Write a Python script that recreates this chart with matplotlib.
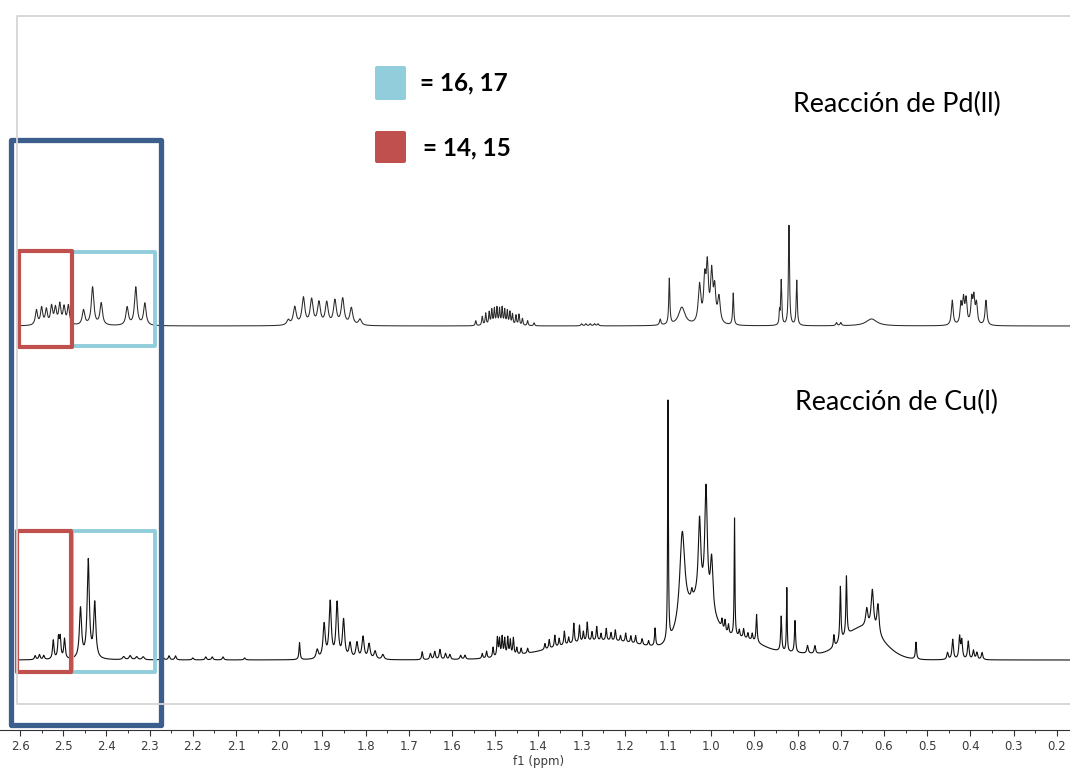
import numpy as np
import matplotlib
matplotlib.use('Agg')
import matplotlib.pyplot as plt
from matplotlib.patches import Rectangle, FancyBboxPatch
from matplotlib.ticker import MultipleLocator, FormatStrFormatter

# ---- Daten ----
# Pd(II): Peak-Lagen [ppm], Höhen [px], Breiten FWHM [ppm]
pd_ppm = [2.562, 2.550, 2.539, 2.527, 2.518, 2.508, 2.498, 2.488,
          2.453, 2.432, 2.412, 2.352, 2.332, 2.311,
          1.979, 1.964, 1.944, 1.925, 1.908, 1.890, 1.871, 1.853, 1.833, 1.813,
          1.545, 1.530, 1.522, 1.514, 1.508, 1.502, 1.496, 1.490, 1.484, 1.478,
          1.472, 1.466, 1.460, 1.452, 1.445, 1.437, 1.425, 1.410,
          1.300, 1.290, 1.280, 1.270, 1.262,
          1.118, 1.097, 1.068, 1.027, 1.015, 1.009, 0.999, 0.992, 0.982,
          0.949, 0.842, 0.838, 0.820, 0.802, 0.710, 0.700, 0.629,
          0.442, 0.422, 0.416, 0.410, 0.397, 0.392, 0.386, 0.364]
pd_int = [15, 17, 15, 18, 16, 20, 17, 19,
          15, 38, 22, 18, 38, 22,
          5, 18, 27, 25, 22, 22, 24, 26, 17, 6,
          5, 9, 12, 13, 15, 16, 17, 16, 17, 15,
          14, 13, 11, 10, 11, 7, 5, 3,
          2, 2, 2, 2, 2,
          6, 46, 18, 38, 40, 54, 48, 32, 26,
          32, 12, 45, 100, 45, 3, 3, 7,
          25, 20, 24, 24, 24, 25, 20, 25]
pd_w = [0.006] * 8 + [0.007] * 6 + [0.008] * 10 + [0.003] * 18 + [0.004] * 5 + \
       [0.004, 0.003, 0.018, 0.007, 0.006, 0.006, 0.006, 0.006, 0.007] + \
       [0.003, 0.002, 0.003, 0.003, 0.003, 0.004, 0.004, 0.03] + [0.005] * 8

# Cu(I): Peak-Lagen, Höhen, Breiten
cu_ppm = [2.565, 2.555, 2.545, 2.523, 2.511, 2.507, 2.497,
          2.460, 2.442, 2.427, 2.360, 2.345, 2.330, 2.315,
          2.270, 2.255, 2.240, 2.200, 2.170, 2.155, 2.130, 2.080,
          1.953, 1.912, 1.896, 1.882, 1.866, 1.851, 1.836, 1.820, 1.806, 1.792,
          1.778, 1.760, 1.669, 1.650, 1.640, 1.628, 1.615, 1.605, 1.580, 1.570,
          1.530, 1.520, 1.505, 1.495, 1.490, 1.484, 1.478, 1.471, 1.465, 1.458,
          1.450, 1.440, 1.425,
          1.385, 1.375, 1.362, 1.352, 1.340, 1.330, 1.318, 1.305, 1.296, 1.287,
          1.276, 1.265, 1.255, 1.243, 1.232, 1.222, 1.210, 1.198, 1.186, 1.175,
          1.160, 1.145, 1.130,
          1.100, 1.067, 1.045, 1.027, 1.012, 0.999,
          0.975, 0.968, 0.960, 0.946, 0.935, 0.925, 0.915, 0.905, 0.895,
          0.838, 0.825, 0.806, 0.777, 0.760, 0.716, 0.701, 0.687,
          0.640, 0.627, 0.614, 0.526,
          0.453, 0.441, 0.425, 0.420, 0.405, 0.393, 0.385, 0.373]
cu_int = [4, 5, 4, 19, 20, 20, 20,
          50, 98, 55, 3, 4, 3, 3,
          5, 4, 4, 2, 3, 3, 3, 2,
          17, 9, 34, 56, 55, 38, 15, 16, 22, 15,
          8, 5, 8, 6, 8, 10, 6, 5, 4, 4,
          5, 7, 10, 19, 17, 19, 17, 18, 15, 17,
          7, 6, 5,
          6, 9, 12, 8, 14, 7, 20, 17, 10, 19,
          9, 14, 7, 12, 8, 11, 6, 9, 7, 8,
          6, 5, 18,
          240, 92, 8, 78, 115, 52,
          9, 11, 9, 118, 7, 9, 6, 7, 28,
          35, 64, 32, 8, 8, 12, 55, 60,
          18, 40, 30, 17,
          7, 20, 22, 18, 18, 9, 7, 7]
cu_w = [0.004] * 7 + [0.006] * 3 + [0.006] * 4 + [0.004] * 8 + \
       [0.003, 0.006] + [0.006] * 10 + [0.003] + [0.004] * 7 + [0.003] * 13 + \
       [0.003] * 23 + [0.002, 0.014, 0.004, 0.007, 0.007, 0.007] + \
       [0.003, 0.003, 0.003, 0.002, 0.003, 0.003, 0.003, 0.003, 0.003] + \
       [0.003, 0.002, 0.003, 0.004, 0.004, 0.003, 0.003, 0.003] + \
       [0.006, 0.007, 0.006, 0.003] + [0.004] * 8

# Cu(I): breite Untergrund-Buckel (Lage, Höhe, sigma)
cu_bump_ppm = [1.25, 1.03, 0.93, 0.80, 0.65]
cu_bump_int = [19, 50, 20, 6, 32]
cu_bump_sig = [0.12, 0.035, 0.05, 0.05, 0.045]

# Grundlinien [px von oben]
pd_base = 326
cu_base = 660

# ---- Spektren ----
x = np.linspace(2.604, 0.16, 25000)


def spektrum(pos, hoehe, breite):
    y = np.zeros_like(x)
    for p, h, w in zip(pos, hoehe, breite):
        y += h * (w / 2) ** 2 / ((x - p) ** 2 + (w / 2) ** 2)
    return y


y_pd = spektrum(pd_ppm, pd_int, pd_w)
y_cu = spektrum(cu_ppm, cu_int, cu_w)
for p, h, s in zip(cu_bump_ppm, cu_bump_int, cu_bump_sig):
    y_cu += h * np.exp(-0.5 * ((x - p) / s) ** 2)

fig = plt.figure(figsize=(10.7, 7.71), dpi=100)
ax = fig.add_axes([0, 0, 1, 1])
ax.set_xlim(2.6 + 20 / 432, 2.6 - 1050 / 432)
ax.set_ylim(771, 0)

ax.plot(x, pd_base - y_pd, color='#2a2a2a', lw=0.75)
ax.plot(x, cu_base - y_cu, color='#111111', lw=0.8)

for s in ['top', 'left', 'right']:
    ax.spines[s].set_visible(False)
ax.spines['bottom'].set_position(('data', 730))
ax.spines['bottom'].set_color('#333333')
ax.spines['bottom'].set_linewidth(0.8)
ax.set_yticks([])
ax.xaxis.set_major_locator(MultipleLocator(0.1))
ax.xaxis.set_minor_locator(MultipleLocator(0.05))
ax.xaxis.set_major_formatter(FormatStrFormatter('%.1f'))
ax.tick_params(axis='x', which='major', direction='out', length=4, width=0.8,
               pad=3, labelsize=8.5, labelcolor='#3a3a3a', color='#333333')
ax.tick_params(axis='x', which='minor', direction='out', length=2.5, width=0.7,
               color='#333333')
ax.text(1.4, 762, 'f1 (ppm)', ha='center', va='center', fontsize=8.5, color='#3a3a3a')

# ---- Overlay in Pixelkoordinaten ----
ov = fig.add_axes([0, 0, 1, 1], facecolor='none')
ov.set_xlim(0, 1070)
ov.set_ylim(771, 0)
ov.axis('off')

# grauer Rahmen des Spektrums
ov.plot([1070, 17, 17, 1070], [16, 16, 704, 704], color='#d6d6d6', lw=1.3)

# Kästen
blau = '#3b5e8c'
rot = '#c0504d'
hellblau = '#92cddc'
ov.add_patch(Rectangle((10.5, 139.5), 150, 585, fill=False, ec=blau, lw=3.8, joinstyle='round'))
ov.add_patch(Rectangle((71.5, 252), 83, 94, fill=False, ec=hellblau, lw=2.8, joinstyle='round'))
ov.add_patch(Rectangle((19, 251), 52.5, 96, fill=False, ec=rot, lw=3.0, joinstyle='round'))
ov.add_patch(Rectangle((71.5, 531), 83, 141, fill=False, ec=hellblau, lw=2.8, joinstyle='round'))
ov.add_patch(Rectangle((17, 531), 54, 141, fill=False, ec=rot, lw=3.0, joinstyle='round'))

# Legende
ov.add_patch(FancyBboxPatch((375, 66), 31, 34, boxstyle='round,pad=0,rounding_size=2',
                            fc=hellblau, ec='none'))
ov.add_patch(FancyBboxPatch((375, 131), 31, 32, boxstyle='round,pad=0,rounding_size=2',
                            fc=rot, ec='none'))
ov.text(420, 83, '= 16, 17', fontsize=17.5, fontweight='bold', family='Lato',
        ha='left', va='center')
ov.text(423, 148, '= 14, 15', fontsize=17.5, fontweight='bold', family='Lato',
        ha='left', va='center')
ov.text(793, 104, 'Reacción de Pd(ll)', fontsize=19.3, family='Lato',
        ha='left', va='center')
ov.text(795, 402, 'Reacción de Cu(l)', fontsize=19.3, family='Lato',
        ha='left', va='center')

fig.savefig('out.png', dpi=100)
